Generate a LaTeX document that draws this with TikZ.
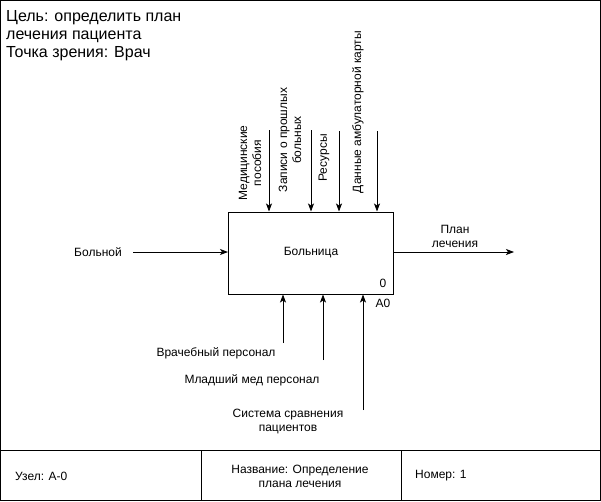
\documentclass[tikz,border=0pt]{standalone}
\usepackage{fontspec}
\setmainfont{Liberation Sans}
\usetikzlibrary{arrows.meta}
\tikzset{
  lbl/.style={font=\fontsize{12}{14}\selectfont, align=center, inner sep=0pt},
  arr/.style={-{Stealth[length=8pt,width=6pt,inset=2pt]}, line width=0.8pt},
  frame/.style={line width=1pt},
}
\begin{document}
\begin{tikzpicture}[x=1pt,y=-1pt]
\useasboundingbox (0,0) rectangle (601,501);
% outer frame and footer
\draw[frame] (0.5,0.5) rectangle (600,500);
\draw[frame] (0.5,450) -- (600,450);
\draw[frame] (201,450) -- (201,500);
\draw[frame] (401,450) -- (401,500);
% title
\node[anchor=north west, align=left, inner sep=0pt, font=\fontsize{16}{18}\selectfont] (title) at (6,10)
  {Цель: определить план\\лечения пациента\\Точка зрения: Врач};
% footer texts
\node[lbl, anchor=west] (uzel) at (15,476) {Узел: А-0};
\node[lbl] (nazv) at (300,476) {Название: Определение\\плана лечения};
\node[lbl, anchor=west] (nomer) at (415,476) {Номер: 1};
% main box
\node[draw, line width=1pt, minimum width=165pt, minimum height=82pt, inner sep=0pt, font=\fontsize{12}{14}\selectfont] (box) at (311,253) {Больница};
\node[lbl] (zero) at (383,283) {0};
\node[lbl] (a0) at (383,303) {A0};
% input
\coordinate (in0) at (133,252);
\draw[arr] (in0) -- (in0 -| box.west);
\node[lbl] (bolnoy) at (98,252) {Больной};
% output
\coordinate (out1) at (514,252);
\draw[arr] (out1 -| box.east) -- (out1);
\node[lbl] (plan) at (455,236) {План\\лечения};
% controls
\coordinate (c1) at (269,130);
\coordinate (c2) at (311,130);
\coordinate (c3) at (339,131);
\coordinate (c4) at (377,131);
\draw[arr] (c1) -- (c1 |- box.north);
\draw[arr] (c2) -- (c2 |- box.north);
\draw[arr] (c3) -- (c3 |- box.north);
\draw[arr] (c4) -- (c4 |- box.north);
\node[lbl, rotate=90] (med) at (250,163) {Медицинские\\пособия};
\node[lbl, rotate=90] (zap) at (290,140) {Записи о прошлых\\больных};
\node[lbl, rotate=90] (res) at (324,158) {Ресурсы};
\node[lbl, rotate=90] (dan) at (358,112) {Данные амбулаторной карты};
% mechanisms
\coordinate (m1) at (283,343);
\coordinate (m2) at (323,360);
\coordinate (m3) at (363,410);
\draw[arr] (m1) -- (m1 |- box.south);
\draw[arr] (m2) -- (m2 |- box.south);
\draw[arr] (m3) -- (m3 |- box.south);
\node[lbl] (vrach) at (216,353) {Врачебный персонал};
\node[lbl] (mlad) at (252,380) {Младший мед персонал};
\node[lbl] (sist) at (288,421) {Система сравнения\\пациентов};
\end{tikzpicture}
\end{document}
